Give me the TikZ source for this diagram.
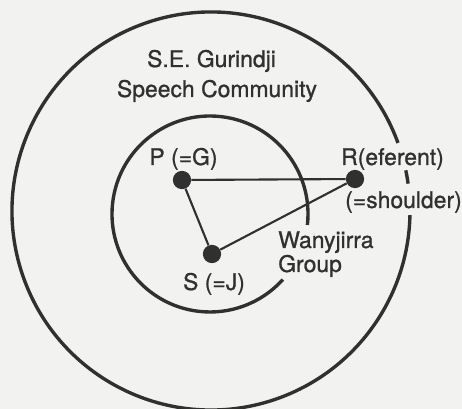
\documentclass[tikz,border=0pt]{standalone}
\usepackage{fontspec}
\setmainfont{TeX Gyre Heros}
\newfontfamily\lblfont[FakeBold=0.9]{TeX Gyre Heros}
\definecolor{ink}{RGB}{48,48,48}
\definecolor{paper}{RGB}{242,242,240}
\usetikzlibrary{positioning}

\tikzset{
  dot/.style={circle,fill=ink,inner sep=0pt,minimum size=13},
  lbl/.style={text=ink,inner sep=0pt,anchor=base,font=\lblfont\fontsize{16.3}{19}\selectfont},
  ring/.style={ink,line width=2.4pt},
  edge/.style={ink,line width=1.5pt}
}

\begin{document}
\begin{tikzpicture}[x=0.025cm,y=0.025cm]
    \fill[paper] (0,0) rectangle (462,409);
    \useasboundingbox (0,0) rectangle (462,409);

    % Speech community (outer circle, broken at the R label)
    \coordinate (outer) at (211,198);
    \draw[ring] (outer) ++(20:199) arc[start angle=20,end angle=358.8,radius=199];
    \draw[ring] (outer) ++(7.9:199) arc[start angle=7.9,end angle=11.8,radius=199];

    % Wanyjirra group (inner circle, broken at its label)
    \coordinate (inner) at (210,195);
    \draw[ring] (inner) ++(-6.4:98) arc[start angle=-6.4,end angle=318,radius=98];

    % Kin triangle
    \node[dot] (P) at (182,229) {};
    \node[dot] (R) at (355,230) {};
    \node[dot] (S) at (212,155) {};
    \draw[edge] (P) -- (R) -- (S) -- (P);

    % Labels
    \node[lbl] (gurindji) at (211.5,342) {S.E. Gurindji};
    \node[lbl] (community) at (217,312) {Speech Community};
    \node[lbl] (Plbl) at (183.5,244) {P (=G)};
    \node[lbl] (Rlbl) at (392.5,244) {R(eferent)};
    \node[lbl] (shoulder) at (403.5,201) {(=shoulder)};
    \node[lbl] (Slbl) at (214,119) {S (=J)};
    \node[lbl,anchor=base west] (wanyjirra) at (278,161) {Wanyjirra};
    \node[lbl,anchor=base west] (group) at (278,137) {Group};
\end{tikzpicture}
\end{document}
